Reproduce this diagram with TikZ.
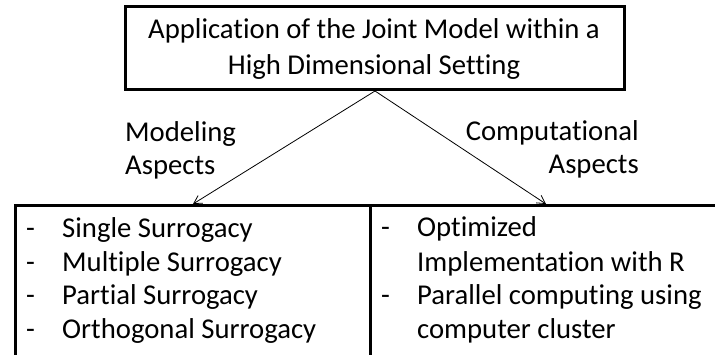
\documentclass[tikz,border=0pt]{standalone}
\usepackage{fontspec}
\setmainfont{Carlito}[Ligatures=NoCommon]
\usetikzlibrary{arrows.meta}
\tikzset{
  box/.style={draw, line width=3pt, rectangle, inner sep=0pt},
  txt/.style={inner sep=0pt, font=\fontsize{28.7}{33}\selectfont},
  link/.style={line width=0.8pt, -{Straight Barb[length=8pt,width=9pt,line width=0.8pt]}}
}
\begin{document}
\begin{tikzpicture}[x=1pt,y=-1pt]
  \useasboundingbox (0,0) rectangle (715,355);
  \begin{scope}
    \clip (0,0) rectangle (715,355);
    % boxes
    \node[box, minimum width=499pt, minimum height=83pt, anchor=north west] (top) at (124,5) {};
    \node[box, minimum width=355pt, minimum height=152pt, anchor=north west] (lbox) at (14,204) {};
    \node[box, minimum width=351pt, minimum height=152pt, anchor=north west] (rbox) at (369,204) {};
  \end{scope}
  % title
  \node[txt, anchor=base] (t1) at (374,39) {Application of the Joint Model within a};
  \node[txt, anchor=base] (t2) at (374,75) {High Dimensional Setting};
  % branch labels
  \node[txt, anchor=base west] (m1) at (125,142) {Modeling};
  \node[txt, anchor=base west] (m2) at (125,175) {Aspects};
  \node[txt, anchor=base east] (c1) at (639,141) {Computational};
  \node[txt, anchor=base east] (c2) at (639,174) {Aspects};
  % connectors
  \draw[link] (top.south) -- (lbox.north);
  \draw[link] (top.south) -- (rbox.north);
  % left list
  \foreach \y/\t [count=\i] in {238/Single Surrogacy, 272/Multiple Surrogacy, 305/Partial Surrogacy, 338/Orthogonal Surrogacy} {
    \node[txt, anchor=base west] (ld\i) at (26,\y) {-};
    \node[txt, anchor=base west] (li\i) at (62,\y) {\t};
  }
  % right list
  \node[txt, anchor=base west] (rd1) at (381,237) {-};
  \node[txt, anchor=base west] (ri1) at (417,237) {Optimized};
  \node[txt, anchor=base west] (ri2) at (417,272) {Implementation with R};
  \node[txt, anchor=base west] (rd2) at (381,305) {-};
  \node[txt, anchor=base west] (ri3) at (417,305) {Parallel computing using};
  \node[txt, anchor=base west] (ri4) at (417,338) {computer cluster};
\end{tikzpicture}
\end{document}
